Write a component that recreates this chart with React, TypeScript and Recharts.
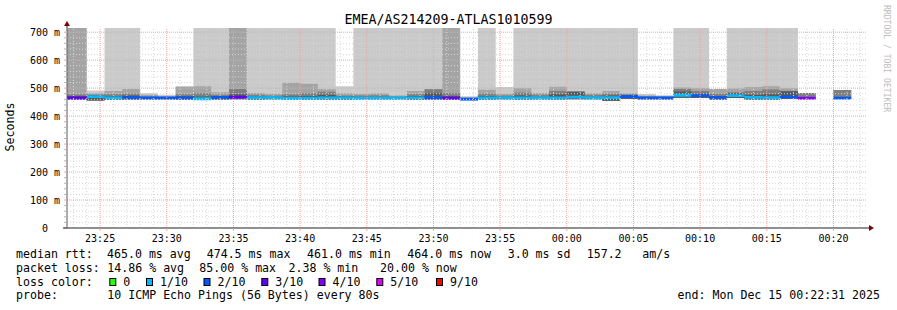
import React from 'react';
import { ComposedChart, Area, XAxis, YAxis, ReferenceLine } from 'recharts';

const chartTitle = 'EMEA/AS214209-ATLAS1010599';

// rrd rows are 80 s wide; times are seconds relative to 00:00:00
const STEP = 80;
const FIRST_ROW = -2320; // 23:21:20
const VIEW_START = -2249; // 23:22:31
const VIEW_END = 1351; // 00:22:31

// one entry per row, 23:21:20 .. 00:20:00 (null = no data)
const rowLoss = [3, 3, 1, 1, 2, 2, 2, 2, 1, 2, 3, 1, 1, 1, 1, 1, 1, 1, 1, 1, 1, 2, 3, 2, 1, 1, 1, 1, 1, 1, 1, 1, 2, 2, 2, 1, 2, 2, 1, 1, 1, 2, 4, null, 2];
const rowMedian = [465, 465, 470, 465, 466, 465, 465, 465, 462, 466, 468, 466, 466, 463, 464, 465, 465, 464, 464, 465, 465, 466, 464, 461, 465, 465, 465, 465, 465, 468, 465, 466, 470, 465, 465, 474.5, 473, 466, 473, 467, 466, 469, 464, null, 464];
const smokeLow = [459, 459, 456, 459, 459, 459, 459, 459, 458, 459, 460, 459, 459, 458, 459, 459, 459, 459, 459, 459, 459, 459, 459, 457, 459, 459, 459, 459, 459, 460, 459, 455, 461, 459, 459, 466, 465, 459, 465, 459, 459, 461, 461, null, 461];
const smokeOuter = [900, 900, 492, 900, 900, 482, 476, 507, 900, 900, 900, 900, 900, 900, 900, 900, 507, 900, 900, 900, 900, 900, 900, 471, 900, 504, 900, 900, 900, 900, 900, 900, 900, 479, 475, 900, 900, 497, 900, 900, 900, 900, 483, null, 493];
const smokeMid = [900, 900, 482, 490, 497, 476, 471, 505, 507, 485, 900, 483, 480, 519, 516, 496, 482, 480, 482, 474, 490, 496, 900, 467, 494, 480, 500, 483, 505, 489, 482, 490, 482, 474, 471, 502, 500, 497, 499, 504, 507, 500, 483, null, 493];
const smokeInner = [478, 478, 475, 478, 480, 470, 468, 478, 482, 476, 497, 476, 474, 478, 482, 487, 474, 474, 475, 470, 478, 496, 483, null, 480, 474, 484, 476, 490, 489, 476, 480, 476, 470, 469, 497, 490, 480, 485, 490, 495, 490, 483, null, 493];
const smokeCore = [472, 472, 476, 471, 474, null, null, 471, 470, 472, 478, 471, null, 470, 472, 476, 470, null, null, null, 472, 482, 472, null, 472, null, 474, null, 478, 486, null, 474, 476, null, null, 488, 480, 472, 482, 476, 478, 489, null, null, null];

const xTickLabels = ['23:25', '23:30', '23:35', '23:40', '23:45', '23:50', '23:55', '00:00', '00:05', '00:10', '00:15', '00:20'];
const yMajor = [0, 100, 200, 300, 400, 500, 600, 700];

const lossLegend = [
  { level: 0, label: '0', color: '#26ff00' },
  { level: 1, label: '1/10', color: '#00b8ff' },
  { level: 2, label: '2/10', color: '#0059ff' },
  { level: 3, label: '3/10', color: '#5e00ff' },
  { level: 4, label: '4/10', color: '#7e00ff' },
  { level: 5, label: '5/10', color: '#dd00ff' },
  { level: 9, label: '9/10', color: '#ff0000' },
];

const medianStats = ['465.0 ms avg', '474.5 ms max', '461.0 ms min', '464.0 ms now', '3.0 ms sd', '157.2', 'am/s'];
const lossStats = ['14.86 % avg', '85.00 % max', '2.38 % min', '20.00 % now'];
const probeText = '10 ICMP Echo Pings (56 Bytes) every 80s';
const endText = 'end: Mon Dec 15 00:22:31 2025';

const W = 897;
const H = 310;
const PLOT = { left: 67, right: 867, top: 28, bottom: 228 };
const Y_MAX = 715;
const MONO = '"DejaVu Sans Mono", monospace';
const GRID = '#d6d6d6';
const MGRID = '#eca4a4';

const toSec = (s: string) => {
  const [h, m] = s.split(':').map(Number);
  return (h >= 12 ? h - 24 : h) * 3600 + m * 60;
};
const xMajor = xTickLabels.map(toSec);

const xMinor: number[] = [];
for (let t = Math.ceil(VIEW_START / 60) * 60; t < VIEW_END; t += 60) if (!xMajor.includes(t)) xMinor.push(t);
const yMinor: number[] = [];
for (let v = 20; v < Y_MAX; v += 20) if (v % 100 !== 0) yMinor.push(v);

type Row = { t: number; loss: number | null; med: number | null; low: number | null; outer: number | null; mid: number | null; inner: number | null; core: number | null };
const rows: Row[] = [];
rowMedian.forEach((_, i) => {
  const start = FIRST_ROW + i * STEP;
  const r = { loss: rowLoss[i], med: rowMedian[i], low: smokeLow[i], outer: smokeOuter[i], mid: smokeMid[i], inner: smokeInner[i], core: smokeCore[i] };
  rows.push({ t: start, ...r });
  rows.push({ t: start + STEP, ...r });
});

const band = (key: keyof Row) => (d: Row) => (d[key] == null || d.low == null ? null : [d.low, d[key] as number]);
const smoke = [
  { key: 'outer' as const, color: '#cacaca' },
  { key: 'mid' as const, color: '#a4a4a4' },
  { key: 'inner' as const, color: '#7e7e7e' },
  { key: 'core' as const, color: '#585858' },
];

const TimeTick = (props: any) => {
  const { x, y, payload } = props;
  const i = xMajor.indexOf(payload.value);
  if (i < 0) return <line x1={x} x2={x} y1={y} y2={y + 1} stroke="#aaa" />;
  return (
    <g>
      <line x1={x} x2={x} y1={y} y2={y + 3} stroke={MGRID} />
      <text x={x} y={y + 14} textAnchor="middle" fontFamily={MONO} fontSize={10} fill="#000">{xTickLabels[i]}</text>
    </g>
  );
};

const ValueTick = (props: any) => {
  const { x, y, payload } = props;
  const v = payload.value;
  const major = v % 100 === 0;
  return (
    <g>
      <line x1={x - 3} x2={x} y1={y} y2={y} stroke={major ? MGRID : '#b4b4b4'} />
      {major && (
        <text x={v === 0 ? x - 19 : x - 7} y={y + 3.5} textAnchor="end" fontFamily={MONO} fontSize={10} fill="#000">
          {v === 0 ? '0' : `${v} m`}
        </text>
      )}
    </g>
  );
};

const Overlay = () => {
  const rowY = [258.3, 271.7, 286, 299.3];
  const statX1 = [107, 206.7, 307, 407.3, 507.7, 586.7, 642.3];
  const statX2 = [107.3, 199.3, 288.5, 380];
  const boxX = [109.3, 146, 203.5, 261.3, 318.5, 376.3, 436];
  const t = { fontFamily: MONO, fontSize: 11.6, fill: '#000' };
  return (
    <svg width={W} height={H} style={{ position: 'absolute', left: 0, top: 0, pointerEvents: 'none' }}>
      <text x={W / 2} y={24} textAnchor="middle" fontFamily={MONO} fontSize={13.3} fill="#000">{chartTitle}</text>
      <text transform="translate(14,127) rotate(-90)" textAnchor="middle" {...t}>Seconds</text>
      <text transform="translate(884,5) rotate(90)" fontFamily={MONO} fontSize={8.1} fill="#bdbdbd">RRDTOOL / TOBI OETIKER</text>
      {/* axis extensions and arrows */}
      <line x1={PLOT.left - 4} x2={PLOT.left} y1={PLOT.bottom} y2={PLOT.bottom} stroke="#212121" />
      <line x1={PLOT.right} x2={PLOT.right + 4} y1={PLOT.bottom} y2={PLOT.bottom} stroke="#212121" />
      <line x1={PLOT.left} x2={PLOT.left} y1={PLOT.top - 4} y2={PLOT.top} stroke="#212121" />
      <polygon points={`${PLOT.right + 2},${PLOT.bottom - 3} ${PLOT.right + 2},${PLOT.bottom + 3} ${PLOT.right + 7},${PLOT.bottom}`} fill="#800000" />
      <polygon points={`${PLOT.left - 3},${PLOT.top - 2} ${PLOT.left + 3},${PLOT.top - 2} ${PLOT.left},${PLOT.top - 7}`} fill="#800000" />

      <text x={16} y={rowY[0]} {...t}>median rtt:</text>
      {medianStats.map((s, i) => <text key={s} x={statX1[i]} y={rowY[0]} {...t}>{s}</text>)}
      <text x={16} y={rowY[1]} {...t}>packet loss:</text>
      {lossStats.map((s, i) => <text key={s} x={statX2[i]} y={rowY[1]} {...t}>{s}</text>)}
      <text x={16} y={rowY[2]} {...t}>loss color:</text>
      {lossLegend.map((l, i) => (
        <g key={l.label}>
          <rect x={boxX[i] + 0.5} y={278.5} width={6} height={7} fill={l.color} stroke="#000" strokeWidth={1} />
          <text x={boxX[i] + 14} y={rowY[2]} {...t}>{l.label}</text>
        </g>
      ))}
      <text x={16} y={rowY[3]} {...t}>probe:</text>
      <text x={107.3} y={rowY[3]} {...t}>{probeText}</text>
      <text x={880} y={rowY[3]} textAnchor="end" {...t}>{endText}</text>
    </svg>
  );
};

export default function App() {
  return (
    <div style={{ position: 'absolute', left: 0, top: 0, width: W, height: H, background: '#fff' }}>
      <ComposedChart
        width={W}
        height={H}
        data={rows}
        margin={{ top: PLOT.top, right: W - PLOT.right, bottom: H - PLOT.bottom - 20, left: 0 }}
      >
        <XAxis
          type="number"
          dataKey="t"
          domain={[VIEW_START, VIEW_END]}
          allowDataOverflow
          ticks={[...xMinor, ...xMajor].sort((a, b) => a - b)}
          interval={0}
          tick={<TimeTick />}
          tickSize={0}
          tickMargin={0}
          tickLine={false}
          axisLine={{ stroke: '#212121' }}
          height={20}
        />
        <YAxis
          type="number"
          domain={[0, Y_MAX]}
          allowDataOverflow
          ticks={[...yMajor, ...yMinor].sort((a, b) => a - b)}
          interval={0}
          tick={<ValueTick />}
          tickSize={0}
          tickMargin={0}
          tickLine={false}
          axisLine={{ stroke: '#5a5a5a' }}
          width={PLOT.left}
        />
        {smoke.map((s) => (
          <Area
            key={s.key}
            type="linear"
            dataKey={band(s.key)}
            stroke="none"
            fill={s.color}
            fillOpacity={1}
            dot={false}
            activeDot={false}
            isAnimationActive={false}
          />
        ))}
        {lossLegend.map((l) => (
          <Area
            key={l.label}
            type="linear"
            dataKey={(d: Row) => (d.loss === l.level && d.med != null ? [d.med - 5, d.med + 5] : null)}
            stroke="none"
            fill={l.color}
            fillOpacity={1}
            dot={false}
            activeDot={false}
            isAnimationActive={false}
          />
        ))}
        {yMinor.map((v) => (
          <ReferenceLine key={`hm${v}`} y={v} stroke={GRID} strokeDasharray="1 2" />
        ))}
        {xMinor.map((v) => (
          <ReferenceLine key={`vm${v}`} x={v} stroke={GRID} strokeDasharray="1 2" />
        ))}
        {yMajor.filter((v) => v > 0).map((v) => (
          <ReferenceLine key={`hM${v}`} y={v} stroke={MGRID} strokeDasharray="1 1" />
        ))}
        {xMajor.map((v) => (
          <ReferenceLine key={`vM${v}`} x={v} stroke={MGRID} strokeDasharray="1 1" />
        ))}
      </ComposedChart>
      <Overlay />
    </div>
  );
}
